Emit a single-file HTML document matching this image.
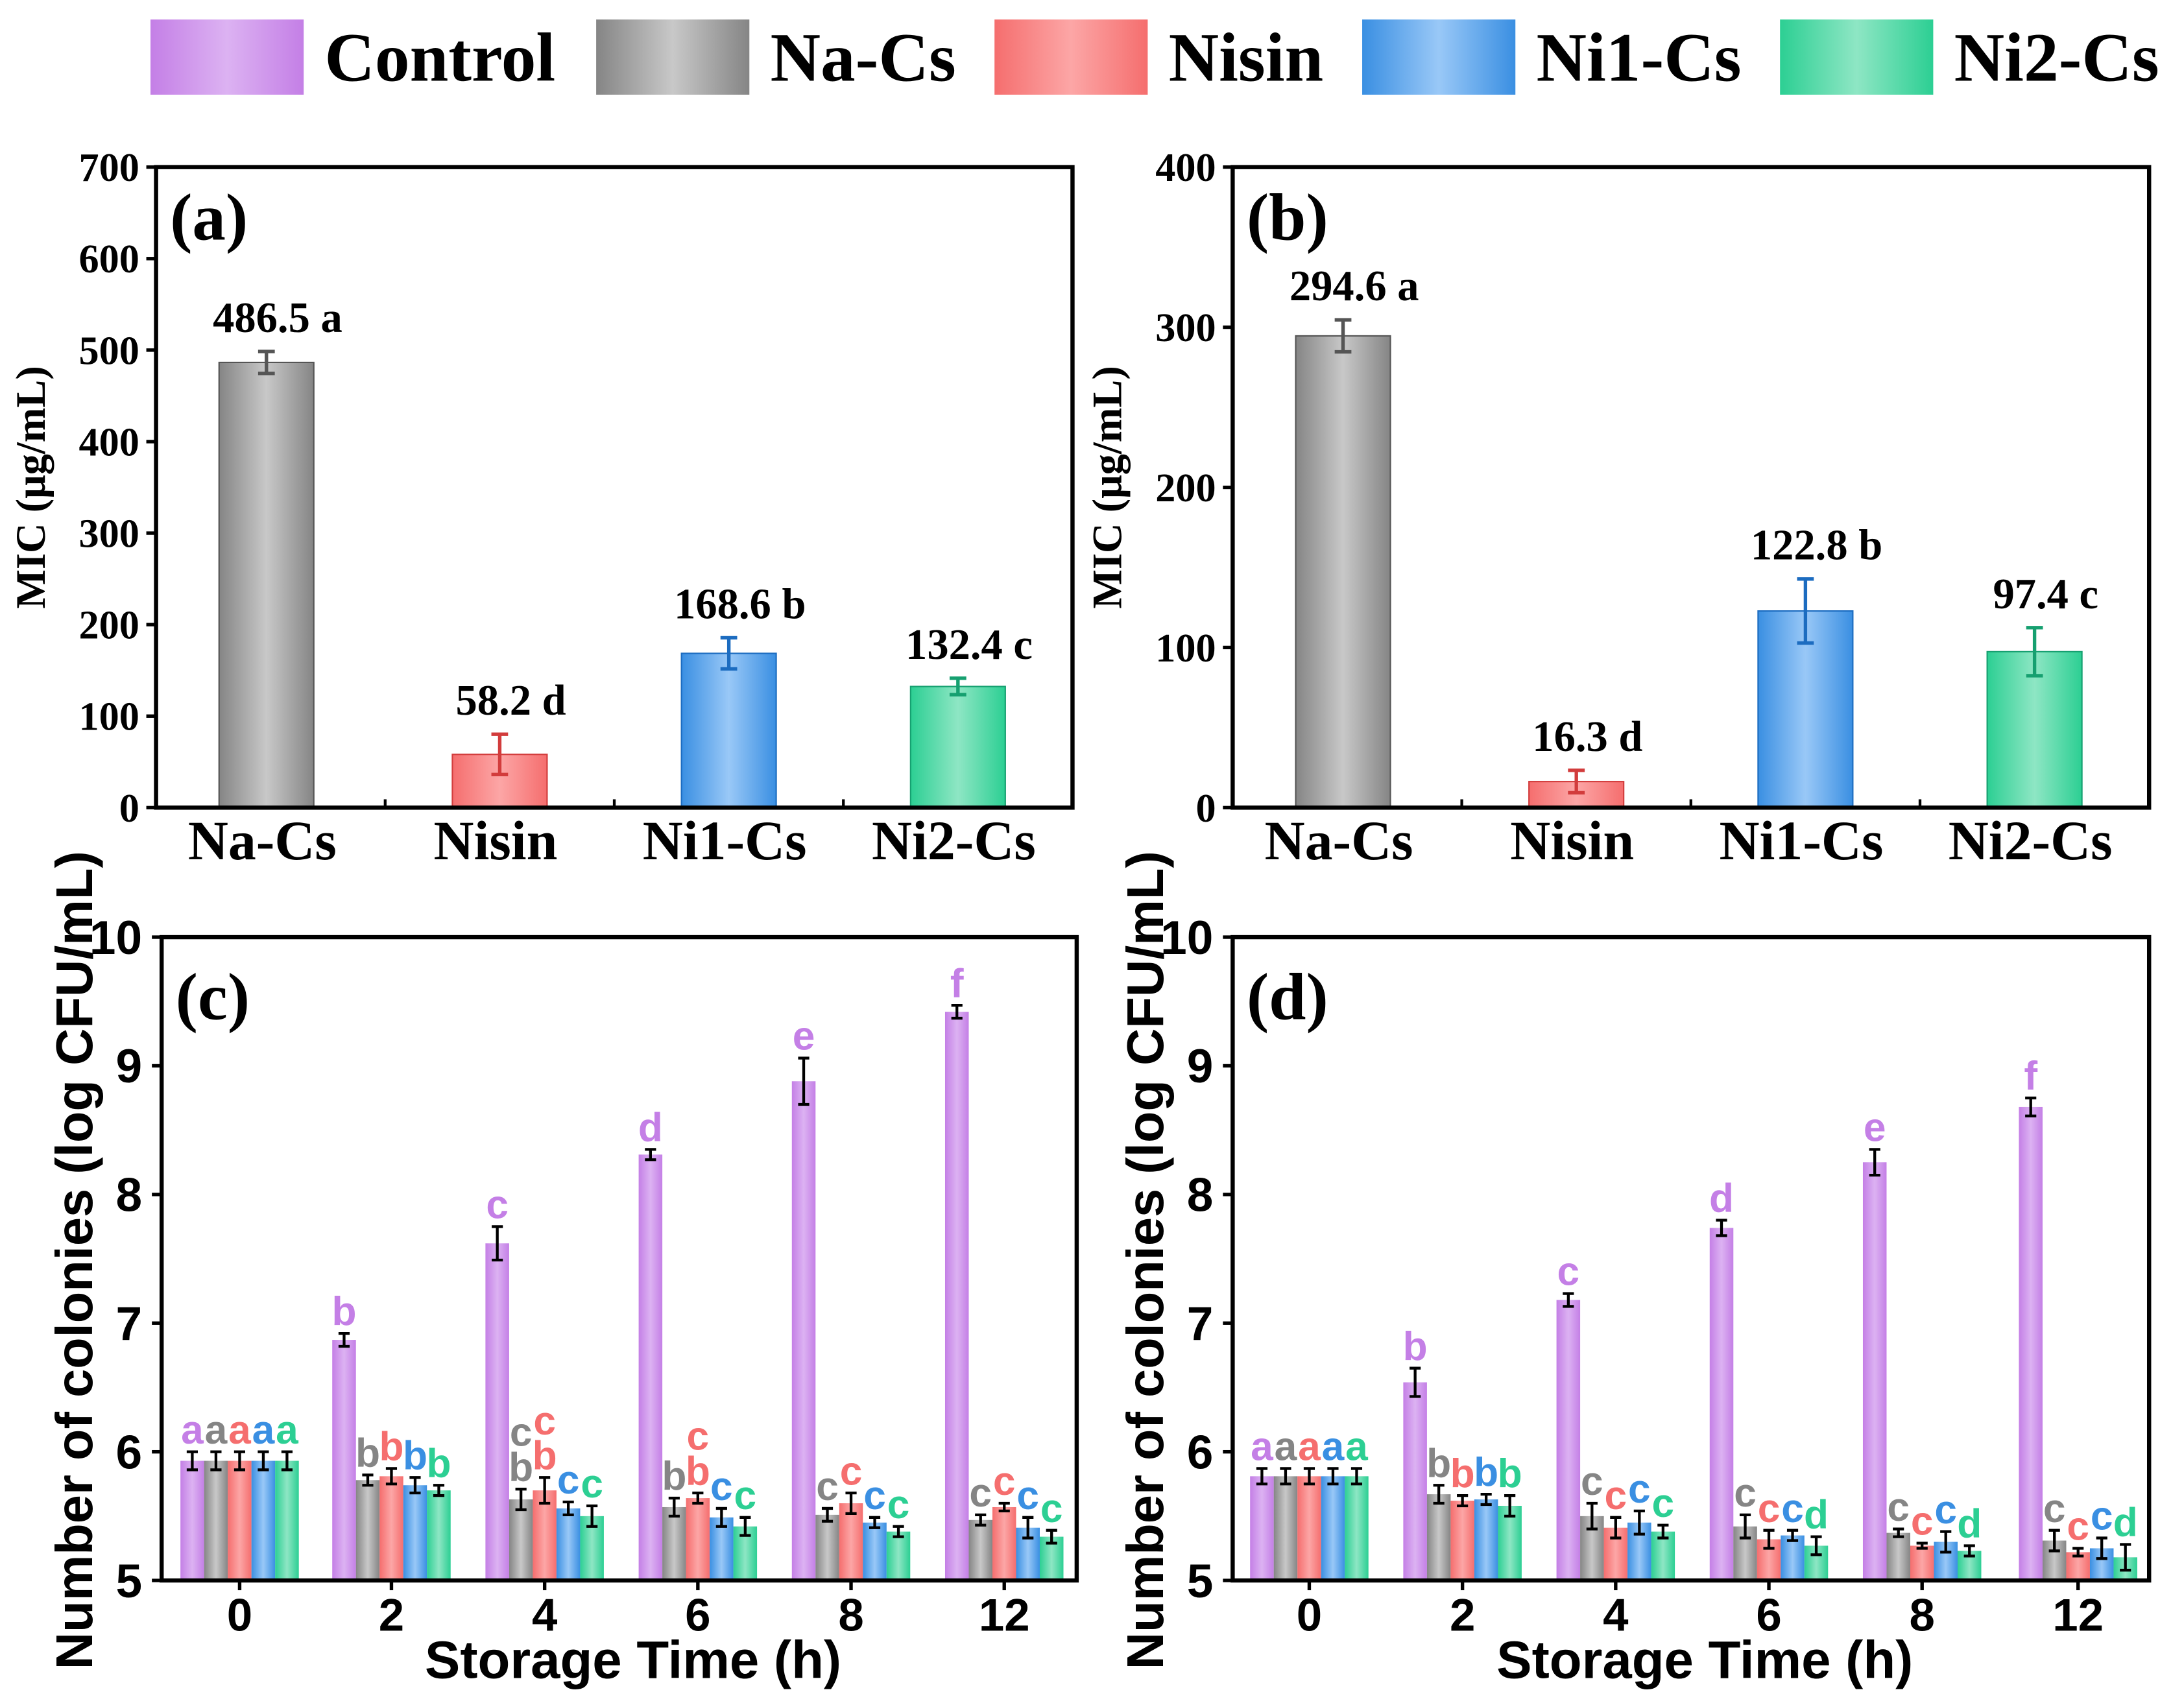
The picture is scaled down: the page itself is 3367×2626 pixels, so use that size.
<!DOCTYPE html>
<html><head><meta charset="utf-8">
<style>
html,body{margin:0;padding:0;background:#fff;}
svg{display:block;}
</style></head>
<body>
<svg id="fig" xmlns="http://www.w3.org/2000/svg" width="3367" height="2626" viewBox="0 0 1568 1223">
<defs id="defs"></defs>
<g id="legend"></g>
<g id="pa"></g>
<g id="pb"></g>
<g id="pc"></g>
<g id="pd"></g>
</svg>
<script>
const seriesNames = ["Control","Na-Cs","Nisin","Ni1-Cs","Ni2-Cs"];
// MIC panel (a)
const micCats = ["Na-Cs","Nisin","Ni1-Cs","Ni2-Cs"];
const micA = [486.5, 58.2, 168.6, 132.4];
const micAErr = [12, 22, 17, 9];
const micALetters = ["a","d","b","c"];
const micATicks = [0,100,200,300,400,500,600,700];
// MIC panel (b)
const micB = [294.6, 16.3, 122.8, 97.4];
const micBErr = [10, 7, 20, 15];
const micBLetters = ["a","d","b","c"];
const micBTicks = [0,100,200,300,400];
// colonies
const timeCats = ["0","2","4","6","8","12"];
const colTicks = [5,6,7,8,9,10];
const cControl = [5.93, 6.87, 7.62, 8.31, 8.88, 9.42];
const cNaCs   = [5.93, 5.78, 5.63, 5.57, 5.51, 5.47];
const cNisin  = [5.93, 5.81, 5.70, 5.64, 5.60, 5.57];
const cNi1    = [5.93, 5.74, 5.56, 5.49, 5.45, 5.41];
const cNi2    = [5.93, 5.70, 5.50, 5.42, 5.38, 5.34];
const cErr = [[0.07,0.05,0.13,0.04,0.18,0.05],[0.07,0.04,0.08,0.07,0.05,0.04],[0.07,0.06,0.1,0.04,0.08,0.03],[0.07,0.06,0.05,0.07,0.04,0.08],[0.07,0.04,0.08,0.07,0.04,0.05]];
const cLetters = [["a","b","c","d","e","f"],["a","b","cb","b","c","c"],["a","b","cb","cb","c","c"],["a","b","c","c","c","c"],["a","b","c","c","c","c"]];
const dControl = [5.81, 6.54, 7.18, 7.74, 8.25, 8.68];
const dNaCs   = [5.81, 5.67, 5.50, 5.42, 5.37, 5.31];
const dNisin  = [5.81, 5.62, 5.41, 5.32, 5.27, 5.22];
const dNi1    = [5.81, 5.63, 5.45, 5.35, 5.30, 5.25];
const dNi2    = [5.81, 5.58, 5.38, 5.27, 5.23, 5.18];
const dErr = [[0.06,0.11,0.05,0.06,0.1,0.07],[0.06,0.07,0.1,0.09,0.03,0.08],[0.06,0.04,0.08,0.07,0.02,0.03],[0.06,0.04,0.09,0.04,0.08,0.08],[0.06,0.08,0.05,0.07,0.04,0.1]];
const dLetters = [["a","b","c","d","e","f"],["a","b","c","c","c","c"],["a","b","c","c","c","c"],["a","b","c","c","c","c"],["a","b","c","d","d","d"]];

const NS="http://www.w3.org/2000/svg";
const colors=["#c47fe6","#858585","#f56e6e","#3a8fe2","#2ccf93"];
const dark=["#9b55c0","#555","#d23c3c","#1c6cc0","#16a070"];
const light=["#dcb2f2","#c8c8c8","#fca6a6","#99c8f7","#8ee6c4"];
const serif='"Liberation Serif", serif', sans='"Liberation Sans", sans-serif';
function el(p,t,a,txt){const e=document.createElementNS(NS,t);for(const k in a)e.setAttribute(k,a[k]);if(txt!==undefined)e.textContent=txt;p.appendChild(e);return e;}
const defs=document.getElementById('defs');
colors.forEach((c,i)=>{const g=el(defs,'linearGradient',{id:'g'+i,x1:0,x2:1,y1:0,y2:0});
el(g,'stop',{offset:'0',"stop-color":c});el(g,'stop',{offset:'0.5',"stop-color":light[i]});el(g,'stop',{offset:'1',"stop-color":c});});

// legend
const lg=document.getElementById('legend');
const lx=[108,428,714,978,1278];
seriesNames.forEach((n,i)=>{
 const r=el(lg,'rect',{x:lx[i],y:14,width:110,height:54,fill:'url(#g'+i+')'});
 
 
 const t=el(lg,'text',{x:lx[i]+125,y:58,"font-family":serif,"font-weight":"bold","font-size":50},n);
 
 
});

function frame(g,x0,y0,x1,y1){const r=el(g,'rect',{x:x0,y:y0,width:x1-x0,height:y1-y0,fill:'none',stroke:'#000',"stroke-width":3});
 }

function micPanel(id,label,x0,x1,vals,errs,lets,ticks,ymax){
 const g=document.getElementById(id);const y0=120,y1=580;
 const Y=v=>y1-(v/ymax)*(y1-y0);
 const bw=(x1-x0)/4;const X=i=>x0+bw*(i+0.5)+ (i===0?-3:0);
 ticks.forEach(t=>{el(g,'line',{x1:x0-7,x2:x0,y1:Y(t),y2:Y(t),stroke:'#000',"stroke-width":2.5});
  const tl=el(g,'text',{x:x0-12,y:Y(t)+10,"text-anchor":"end","font-family":serif,"font-weight":"bold","font-size":29},t);
  });
 for(let i=1;i<4;i++)el(g,'line',{x1:x0+bw*i,x2:x0+bw*i,y1:y1,y2:y1-6,stroke:'#000',"stroke-width":2});
 vals.forEach((v,i)=>{const cx=X(i),ci=i+1;
  const b=el(g,'rect',{x:cx-34,y:Y(v),width:68,height:y1-Y(v),fill:'url(#g'+ci+')',stroke:dark[ci],"stroke-width":1});
  
  const e=errs[i];
  el(g,'path',{d:`M${cx},${Y(v+e)}V${Y(v-e)}M${cx-6},${Y(v+e)}H${cx+6}M${cx-6},${Y(v-e)}H${cx+6}`,stroke:dark[ci],"stroke-width":2.5,fill:'none'});
  const vl=el(g,'text',{x:cx+8,y:Y(v+e)-14,"text-anchor":"middle","font-family":serif,"font-weight":"bold","font-size":31},v.toFixed(1)+' '+lets[i]);
  
  const cl=el(g,'text',{x:cx-3,y:617,"text-anchor":"middle","font-family":serif,"font-weight":"bold","font-size":40},micCats[i]);
  
 });
 frame(g,x0,y0,x1,y1);
 const pl=el(g,'text',{x:x0+10,y:172,"font-family":serif,"font-weight":"bold","font-size":48},label);
 
 const yt=el(g,'text',{transform:`translate(${x0-80},350) rotate(-90)`,"text-anchor":"middle","font-family":serif,"font-weight":"bold","font-size":30},'MIC (μg/mL)');
 
}
micPanel('pa','(a)',112,770,micA,micAErr,micALetters,micATicks,700);
micPanel('pb','(b)',885,1543,micB,micBErr,micBLetters,micBTicks,400);

function colPanel(id,label,x0,x1,series,errs,lets,centers){
 const g=document.getElementById(id);const y0=673,y1=1135;
 const Y=v=>y1-((v-5)/5)*(y1-y0);
 colTicks.forEach(t=>{el(g,'line',{x1:x0-7,x2:x0,y1:Y(t),y2:Y(t),stroke:'#000',"stroke-width":2.5});
  const tl=el(g,'text',{x:x0-14,y:Y(t)+12,"text-anchor":"end","font-family":sans,"font-weight":"bold","font-size":34},t);
  });
 const bw=17;
 centers.forEach((c,j)=>{
  el(g,'line',{x1:c,x2:c,y1:y1,y2:y1+7,stroke:'#000',"stroke-width":2.5});
  const xl=el(g,'text',{x:c,y:1171,"text-anchor":"middle","font-family":sans,"font-weight":"bold","font-size":33},timeCats[j]);
  
  series.forEach((s,i)=>{const cx=c+(i-2)*bw;const v=s[j],e=errs[i][j];
   const b=el(g,'rect',{x:cx-bw/2,y:Y(v),width:bw,height:y1-Y(v),fill:'url(#g'+i+')'});
   
   el(g,'path',{d:`M${cx},${Y(v+e)}V${Y(v-e)}M${cx-4},${Y(v+e)}H${cx+4}M${cx-4},${Y(v-e)}H${cx+4}`,stroke:'#000',"stroke-width":2,fill:'none'});
   const L=lets[i][j];let ty=Y(v+e)-6;
   for(let k=L.length-1;k>=0;k--){
    const t=el(g,'text',{x:cx,y:ty,"text-anchor":"middle","font-family":sans,"font-weight":"bold","font-size":29,fill:colors[i]},L[k]);
    ty-=25;}
  });
 });
 frame(g,x0,y0,x1,y1);
 const pl=el(g,'text',{x:x0+10,y:732,"font-family":serif,"font-weight":"bold","font-size":48},label);
 
 const yt=el(g,'text',{transform:`translate(${x0-50},905) rotate(-90)`,"text-anchor":"middle","font-family":sans,"font-weight":"bold","font-size":37},'Number of colonies (log CFU/mL)');
 
 const xt=el(g,'text',{x:(x0+x1)/2+10,y:1205,"text-anchor":"middle","font-family":sans,"font-weight":"bold","font-size":38},'Storage Time (h)');
 
}
colPanel('pc','(c)',116,773,[cControl,cNaCs,cNisin,cNi1,cNi2],cErr,cLetters,[172,281,391,501,611,721]);
colPanel('pd','(d)',885,1543,[dControl,dNaCs,dNisin,dNi1,dNi2],dErr,dLetters,[940,1050,1160,1270,1380,1492]);
</script>
</body></html>
